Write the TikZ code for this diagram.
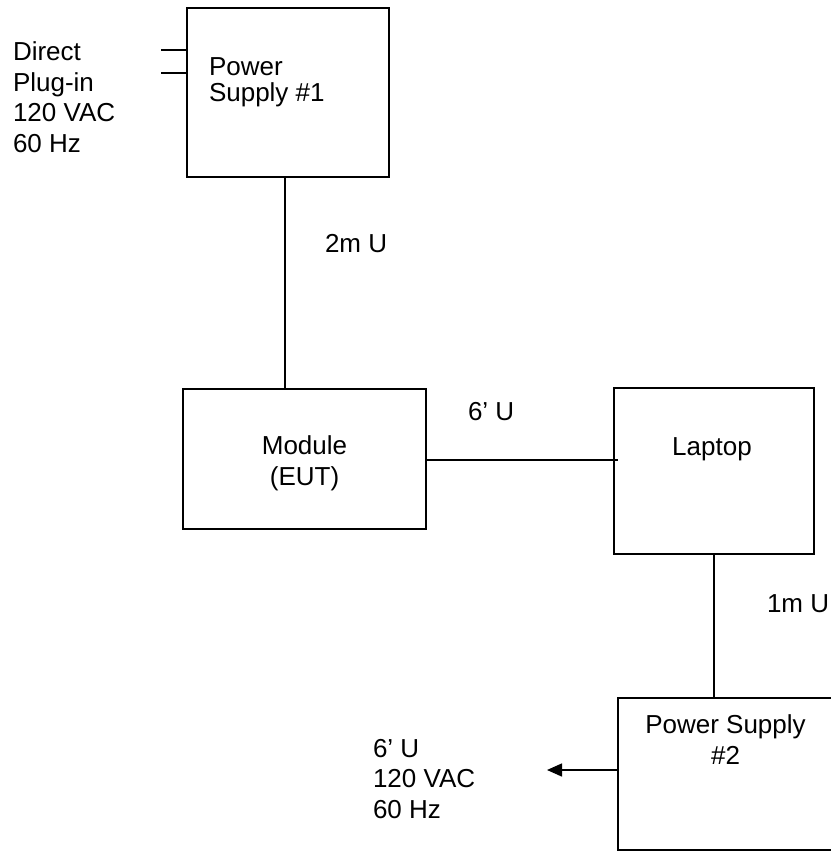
\documentclass[tikz,border=0pt]{standalone}
\usepackage{fontspec}
\setmainfont{Liberation Sans}
\usetikzlibrary{arrows.meta}
\begin{document}
\begin{tikzpicture}[x=1pt,y=-1pt,
  box/.style={draw,line width=1.5pt,rectangle,inner sep=0pt,outer sep=0pt},
  wire/.style={line width=1.5pt},
  lbl/.style={inner sep=0pt,outer sep=0pt,font=\fontsize{26}{30.5}\selectfont},
  lblsq/.style={inner sep=0pt,outer sep=0pt,font=\fontsize{26}{25}\selectfont}]
\useasboundingbox (0,0) rectangle (830,851);
% boxes
\node[box,minimum width=202pt,minimum height=169pt] (ps1) at (288,92.5) {};
\node[box,minimum width=243pt,minimum height=140pt] (mod) at (304.5,459) {};
\node[box,minimum width=200pt,minimum height=166pt] (lap) at (714,471) {};
\node[box,minimum width=216pt,minimum height=152pt] (ps2) at (726,774) {};
% labels (anchor base = baseline of the last line)
\node[lbl,align=left,anchor=base west] (dir) at (13,152) {Direct\\Plug-in\\120 VAC\\60 Hz};
\node[lblsq,align=left,anchor=base west] (ps1t) at (209,101) {Power\\Supply \#1};
\node[lbl,anchor=base west] (l2m) at (325,252) {2m U};
\node[lbl,align=center,anchor=base] (modt) at (304.5,485) {Module\\(EUT)};
\node[lbl,anchor=base west] (l6u) at (468,420) {6’ U};
\node[lbl,anchor=base] (lapt) at (712,455) {Laptop};
\node[lbl,anchor=base west] (l1m) at (767,612) {1m U};
\node[lbl,align=center,anchor=base] (ps2t) at (725.5,764) {Power Supply\\\#2};
\node[lbl,align=left,anchor=base west] (acl) at (373,818) {6’ U\\120 VAC\\60 Hz};
% connectors
\coordinate (p1) at (161,50);
\coordinate (p2) at (161,73);
\coordinate (acend) at (547,770);
\draw[wire] (p1) -- (p1 -| ps1.west);
\draw[wire] (p2) -- (p2 -| ps1.west);
\draw[wire] ([xshift=-3pt]ps1.south) -- ([xshift=-3pt]ps1.south |- mod.north);
\draw[wire] ([yshift=-1pt]mod.east) -- ([yshift=-1pt,xshift=4pt]mod.east -| lap.west);
\draw[wire] (lap.south) -- (lap.south |- ps2.north);
\draw[wire,-{Triangle[length=15pt,width=13pt]}] (ps2.west |- acend) -- (acend);
\end{tikzpicture}
\end{document}
